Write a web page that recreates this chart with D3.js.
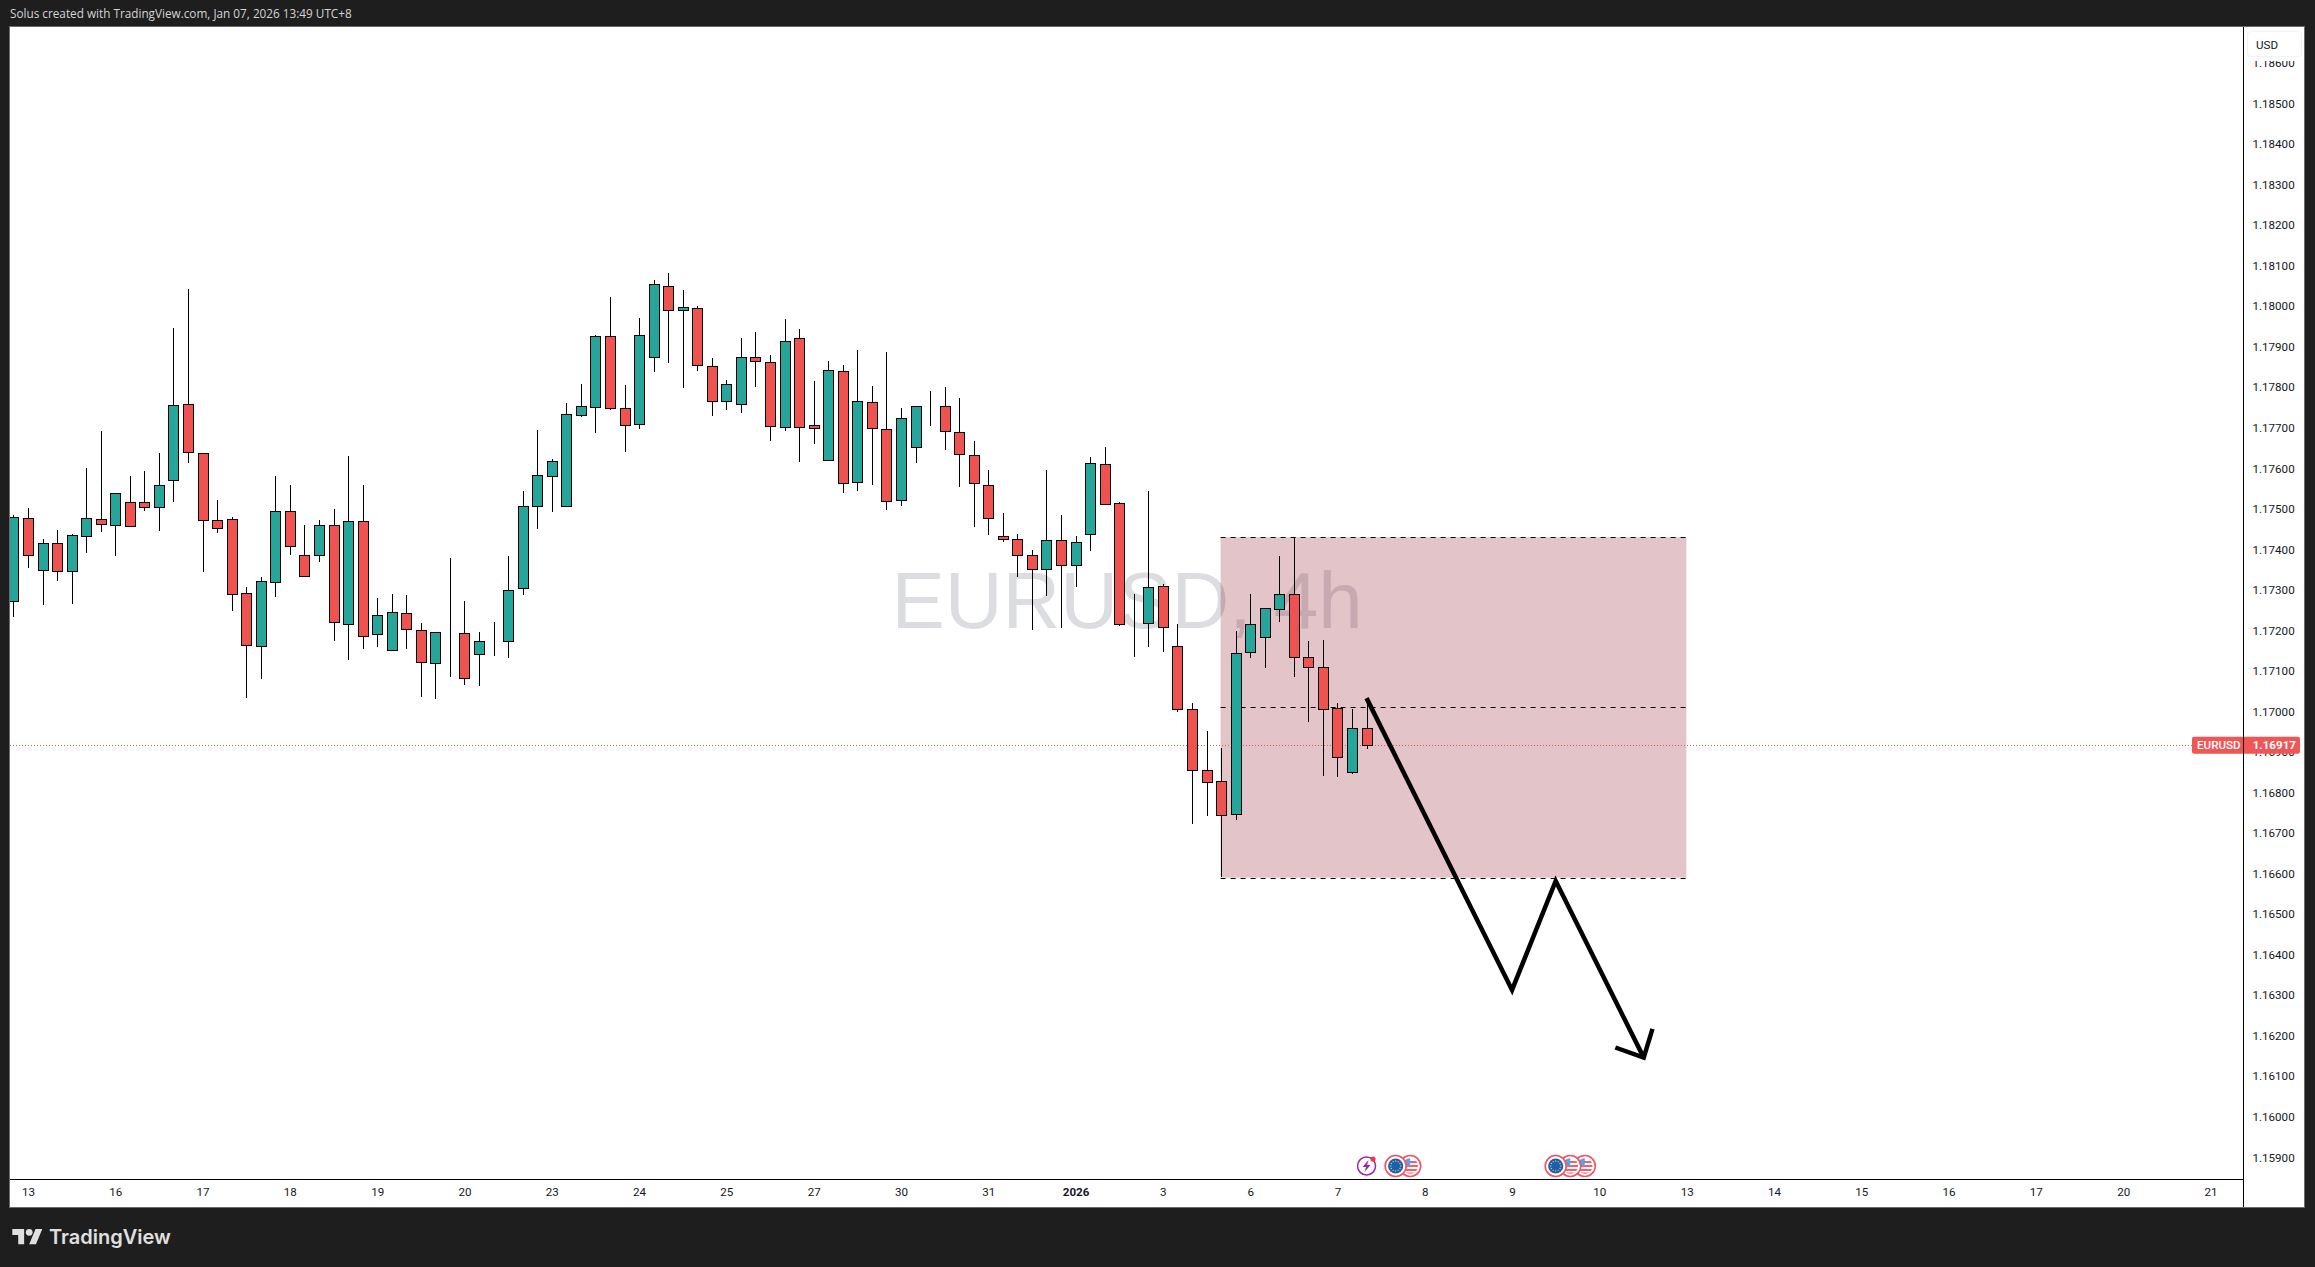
<!DOCTYPE html>
<html><head><meta charset="utf-8">
<script src="https://cdn.jsdelivr.net/npm/d3@7/dist/d3.min.js"></script>
<style>
html,body{margin:0;padding:0;background:#1e1e1e;overflow:hidden}
svg{display:block}
text{font-family:Roboto,sans-serif}
</style></head><body>
<svg id="c" width="2315" height="1267"></svg>
<script>
// OHLC candles in 1e-5 price units
const opens=[117272,117477,117348,117415,117346,117432,117474,117459,117518,117518,117506,117570,117758,117639,117472,117474,117292,117161,117319,117494,117385,117385,117459,117215,117469,117190,117151,117242,117200,117119,117195,117193,117141,117176,117176,117304,117506,117580,117506,117731,117750,117926,117750,117709,117874,118049,117990,117995,117852,117765,117758,117874,117862,117701,117921,117706,117620,117839,117565,117763,117696,117521,117652,117753,117753,117689,117632,117560,117434,117425,117385,117351,117422,117361,117437,117610,117514,117215,117218,117309,117161,117005,116855,116828,116746,117146,117183,117252,117289,117134,117109,117008,116850,116959];
const highs=[117484,117501,117425,117449,117437,117600,117691,117538,117580,117593,117639,117945,118042,117639,117523,117481,117306,117333,117580,117558,117459,117472,117499,117630,117558,117279,117289,117287,117218,117195,117378,117272,117195,117220,117383,117543,117694,117622,117760,117807,117928,118022,117805,117970,118064,118081,118039,118000,117871,117817,117921,117936,117879,117968,117943,117815,117864,117854,117891,117802,117886,117748,117753,117790,117800,117773,117667,117595,117489,117437,117398,117595,117486,117432,117627,117652,117516,117289,117543,117314,117215,117020,116951,116909,117198,117289,117255,117383,117430,117173,117176,117020,117005,117030];
const lows=[117234,117355,117264,117323,117266,117392,117444,117384,117459,117495,117446,117518,117614,117345,117441,117249,117034,117079,117283,117387,117333,117370,117175,117128,117153,117158,117151,117153,117037,117032,117086,117066,117064,117138,117133,117288,117451,117493,117506,117727,117688,117745,117641,117697,117838,117861,117799,117841,117730,117745,117737,117801,117668,117693,117616,117661,117620,117540,117545,117560,117498,117508,117614,117705,117646,117555,117456,117436,117419,117333,117202,117286,117207,117306,117397,117511,117210,117135,117160,117148,116999,116723,116741,116591,116733,117133,117108,117222,117084,116975,116842,116839,116845,116908];
const closes=[117479,117385,117415,117346,117435,117477,117462,117538,117459,117506,117560,117755,117639,117474,117452,117289,117163,117321,117494,117407,117333,117459,117220,117469,117185,117237,117245,117203,117121,117195,117195,117082,117173,117176,117301,117506,117583,117617,117733,117753,117926,117748,117709,117928,118054,117990,117997,117854,117765,117807,117874,117864,117704,117913,117701,117699,117842,117563,117765,117699,117518,117723,117753,117753,117691,117635,117563,117479,117427,117385,117351,117422,117361,117417,117612,117511,117215,117215,117306,117208,117005,116855,116825,116744,117144,117215,117255,117289,117134,117109,117005,116887,116959,116917];
const lastPrice=1.16917, symbolName="EURUSD", watermark="EURUSD, 4h", currency="USD";
const priceTicks=d3.range(27,-1,-1).map(k=>(115900+k*100)/100000);
const timeLabels=["13","16","17","18","19","20","23","24","25","27","30","31","2026","3","6","7","8","9","10","13","14","15","16","17","20","21"];
const zoneBars=[82.97,114.98], zonePrices=[1.1743,1.1701,1.1659];
const pathBars=[93,103,106,112.05], pathPrices=[1.17033,1.16313,1.16582,1.16146];
const headBars=[110.1,112.05,112.65], headPrices=[1.16171,1.16146,1.16217];
const eventBars=[{b:93,k:"news"},{b:108,k:"us"},{b:107,k:"us"},{b:106,k:"eu"},{b:96,k:"us"},{b:95,k:"eu"}];
const caption="Solus created with TradingView.com, Jan 07, 2026 13:49 UTC+8";

const L=10,R=2304,T=27,B=1207,AX=2243.5,AY=1179.5;
const x=d3.scaleLinear().domain([0,100]).range([13.4,1468.4]);
const y=d3.scaleLinear().domain([1.17,1.18]).range([711.5,306.2]);
const svg=d3.select("#c");
const defs=svg.append("defs");
defs.append("clipPath").attr("id","pane").append("rect").attr("x",L).attr("y",T).attr("width",AX-L).attr("height",AY-T);
const px=v=>Math.round(v)+.5;

svg.append("text").attr("x",10).attr("y",18).attr("fill","#d4d4d4").style("font-family","'Open Sans'").style("font-size","11.75px").text(caption);
svg.append("rect").attr("x",L-.5).attr("y",T-.5).attr("width",R-L+1).attr("height",B-T+1).attr("fill","#fff").attr("stroke","#6b6b6b");

const pane=svg.append("g").attr("clip-path","url(#pane)");
pane.append("text").attr("x",1127).attr("y",628).attr("text-anchor","middle").attr("fill","#dcdde0")
  .style("font-family","'Liberation Sans'").style("font-size","80px").text(watermark);

// drawn zone
const zx0=x(zoneBars[0]),zx1=x(zoneBars[1]);
pane.append("rect").attr("x",zx0).attr("y",y(zonePrices[0])).attr("width",zx1-zx0).attr("height",y(zonePrices[2])-y(zonePrices[0])).attr("fill","rgba(128,0,20,.23)");
pane.selectAll("line.zone").data(zonePrices).join("line").attr("class","zone")
  .attr("x1",zx0).attr("x2",zx1).attr("y1",d=>px(y(d))).attr("y2",d=>px(y(d))).attr("stroke","#000").attr("stroke-dasharray","5 5");

// price line
pane.append("line").attr("x1",L).attr("x2",2192).attr("y1",px(y(lastPrice))).attr("y2",px(y(lastPrice))).attr("stroke","#ef5350").attr("stroke-dasharray","1 2");

// candles
const bars=opens.map((o,i)=>({i,o:o/1e5,h:highs[i]/1e5,l:lows[i]/1e5,c:closes[i]/1e5}));
const g=pane.selectAll("g.bar").data(bars).join("g").attr("class","bar").attr("shape-rendering","crispEdges");
g.append("line").attr("x1",d=>px(x(d.i))).attr("x2",d=>px(x(d.i))).attr("y1",d=>y(d.h)).attr("y2",d=>y(d.l)).attr("stroke","#000");
g.append("rect").attr("x",d=>px(x(d.i))-5).attr("width",10)
  .attr("y",d=>px(y(Math.max(d.o,d.c)))).attr("height",d=>Math.max(0,Math.round(y(Math.min(d.o,d.c))-y(Math.max(d.o,d.c)))))
  .attr("fill",d=>d.c>=d.o?"#26a69a":"#ef5350").attr("stroke","#000");

// arrow
const ln=d3.line().x(d=>x(d[0])).y(d=>y(d[1]));
const arrowStyle=s=>s.attr("fill","none").attr("stroke","#000").attr("stroke-width",4.5).attr("stroke-linejoin","miter");
pane.append("path").attr("d",ln(pathBars.map((b,i)=>[b,pathPrices[i]]))).call(arrowStyle);
pane.append("path").attr("d",ln(headBars.map((b,i)=>[b,headPrices[i]]))).call(arrowStyle);

// axes
const yAxis=d3.axisRight(y).tickValues(priceTicks).tickSize(0).tickPadding(9).tickFormat(d3.format(".5f"));
const ya=svg.append("g").attr("transform",`translate(${AX},0)`).call(yAxis);
ya.select(".domain").remove();
ya.selectAll("text").attr("fill","#131722").style("font-family","Roboto").style("font-size","11.6px");
const xAxis=d3.axisBottom(x).tickValues(timeLabels.map((_,k)=>1+6*k)).tickSize(0).tickPadding(8).tickFormat((d,k)=>timeLabels[k]);
const xa=svg.append("g").attr("transform",`translate(0,${AY})`).call(xAxis);
xa.select(".domain").remove();
xa.selectAll("text").attr("fill","#131722").style("font-family","Roboto").style("font-size","11.6px")
  .style("font-weight",(d,k)=>timeLabels[k]==="2026"?"700":"400");
svg.append("line").attr("x1",AX).attr("x2",AX).attr("y1",T).attr("y2",B).attr("stroke","#000");
svg.append("line").attr("x1",L).attr("x2",AX).attr("y1",AY).attr("y2",AY).attr("stroke","#000");

// currency badge, masking the top of the highest tick label
svg.append("rect").attr("x",2245).attr("y",29).attr("width",58).attr("height",32).attr("fill","#fff");
svg.append("rect").attr("x",2247.5).attr("y",31.5).attr("width",54).attr("height",25).attr("rx",3).attr("fill","#fff").attr("stroke","#f0f3fa");
svg.append("text").attr("x",2256).attr("y",49).attr("fill","#131722").style("font-size","11.6px").text(currency);

// last price labels
const ly=y(lastPrice);
svg.append("path").attr("d",`M2244 ${ly-8.5}H2298a2 2 0 0 1 2 2V${ly+6.5}a2 2 0 0 1 -2 2H2244Z`).attr("fill","#f05656");
svg.append("path").attr("d",`M2243 ${ly-8.5}H2194a2 2 0 0 0 -2 2V${ly+6.5}a2 2 0 0 0 2 2H2243Z`).attr("fill","#f05656");
svg.append("line").attr("x1",AX).attr("x2",AX).attr("y1",ly-9).attr("y2",ly+9).attr("stroke","#000");
svg.append("text").attr("x",2197).attr("y",ly+4).attr("fill","#fff").style("font-size","11.6px").style("font-weight","500").text(symbolName);
svg.append("text").attr("x",2252.7).attr("y",ly+4).attr("fill","#fff").style("font-size","11.6px").style("font-weight","700").text(lastPrice.toFixed(5));

// event icons (earlier ones sit on top)
const iconY=1166;
const ev=svg.append("g").selectAll("g").data(eventBars).join("g").attr("transform",d=>`translate(${x(d.b)},${iconY})`);
ev.each(function(d){
  const s=d3.select(this);
  if(d.k==="news"){
    s.append("circle").attr("r",9).attr("fill","#fff").attr("stroke","#9c27b0").attr("stroke-width",1.5);
    s.append("path").attr("d","M2 -6L-4 1H-0.5L-2 6L4 -1H0.5Z").attr("fill","#9c27b0");
    s.append("circle").attr("cx",6.5).attr("cy",-7).attr("r",2.6).attr("fill","#f23645");
  } else {
    s.append("circle").attr("r",10.5).attr("fill","#fff").attr("stroke","#f7525f").attr("stroke-width",1.6);
    if(d.k==="eu"){
      s.append("circle").attr("r",7.6).attr("fill","#1c5fb0");
      s.selectAll("circle.star").data(d3.range(12)).join("circle").attr("class","star").attr("r",.7).attr("fill","#e8c53a")
       .attr("cx",k=>5*Math.cos(k*Math.PI/6)).attr("cy",k=>5*Math.sin(k*Math.PI/6));
    } else {
      const id="usclip"+d.b;
      defs.append("clipPath").attr("id",id).append("circle").attr("r",7.8);
      const f=s.append("g").attr("clip-path",`url(#${id})`);
      f.append("rect").attr("x",-8).attr("y",-8).attr("width",16).attr("height",16).attr("fill","#fff");
      [-5,-1,3,6.5].forEach(v=>f.append("rect").attr("x",-8).attr("y",v).attr("width",16).attr("height",2).attr("fill","#f0616d"));
      f.append("rect").attr("x",-8).attr("y",-8).attr("width",8).attr("height",8).attr("fill","#5ea1e8");
    }
  }
});

// logo
const lg=svg.append("g").attr("transform","translate(12.3,1225.6) scale(.845)").attr("fill","#e0e0e0");
lg.append("path").attr("d","M14 22H7V11H0V4h14v18zM28 22h-8l7.5-18h8L28 22z");
lg.append("circle").attr("cx",20).attr("cy",8).attr("r",4);
svg.append("text").attr("x",49).attr("y",1243.5).attr("fill","#e0e0e0").style("font-family","Inter").style("font-size","20px").style("font-weight","600").text("TradingView");
</script></body></html>
